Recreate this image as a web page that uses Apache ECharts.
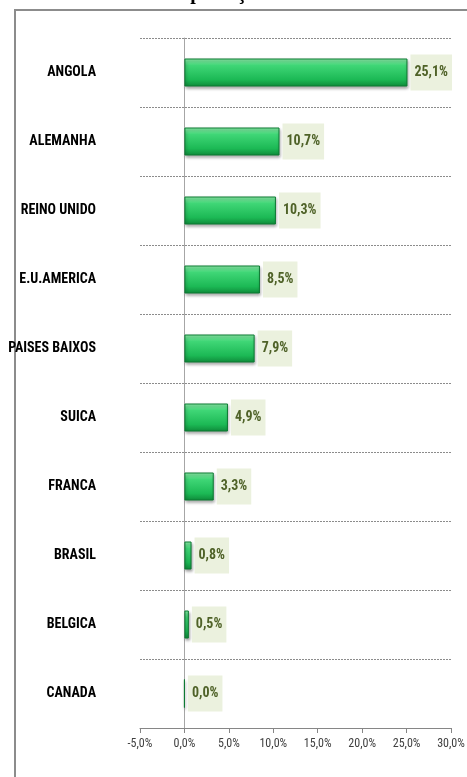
<!DOCTYPE html>
<html><head><meta charset="utf-8">
<script src="https://cdn.jsdelivr.net/npm/echarts@6/dist/echarts.min.js"></script>
<style>html,body{margin:0;padding:0;background:#fff}#c{width:467px;height:777px}</style>
</head><body><div id="c"></div>
<script>
const categories = ['ANGOLA','ALEMANHA','REINO UNIDO','E.U.AMERICA','PAISES BAIXOS','SUICA','FRANCA','BRASIL','BELGICA','CANADA'];
const values = [25.1, 10.7, 10.3, 8.5, 7.9, 4.9, 3.3, 0.8, 0.5, 0.0];
const titleText = 'Exportação 2016';
const xMin = -5, xMax = 30, xStep = 5;

const fmt = v => v.toFixed(1).replace('.', ',') + '%';
const narrow = '"Liberation Sans Narrow", "Roboto Condensed", "DejaVu Sans Condensed", sans-serif';

const chart = echarts.init(document.getElementById('c'), null, {renderer: 'canvas'});
chart.setOption({
  animation: false,
  backgroundColor: '#fff',
  graphic: [
    {type: 'rect', shape: {x: 15, y: 10, width: 480, height: 800},
     style: {fill: 'none', stroke: '#8c8c8c', lineWidth: 2}, z: 0},
    {type: 'text', left: 167, top: -16,
     style: {text: titleText, font: 'bold 20px "Liberation Serif", serif', fill: '#000'}, z: 10}
  ],
  grid: {left: 140, right: 16, top: 38, bottom: 49, outerBoundsMode: 'none'},
  xAxis: {
    type: 'value', min: xMin, max: xMax, interval: xStep,
    axisLine: {show: true, lineStyle: {color: '#868686', width: 1}},
    axisTick: {show: true, length: 5, lineStyle: {color: '#868686'}},
    splitLine: {show: false},
    axisLabel: {formatter: fmt, color: '#404040', fontFamily: narrow, fontSize: 12, margin: 10}
  },
  yAxis: {
    type: 'category', data: categories, inverse: true,
    axisLine: {show: true, onZero: true, lineStyle: {color: '#a6a6a6'}},
    axisTick: {show: false},
    splitLine: {show: true, lineStyle: {color: '#8c8c8c', type: [2, 1], width: 1}},
    axisLabel: {color: '#000', fontFamily: narrow, fontWeight: 'bold', fontSize: 14,
                margin: 44, align: 'right'}
  },
  series: [{
    type: 'bar',
    data: values,
    barWidth: 28,
    itemStyle: {
      color: new echarts.graphic.LinearGradient(0, 0, 0, 1, [
        {offset: 0, color: '#8ff0ac'},
        {offset: 0.25, color: '#3fd676'},
        {offset: 0.75, color: '#1cb955'},
        {offset: 1, color: '#0f8a3a'}
      ]),
      borderColor: '#0d7a33', borderWidth: 1,
      shadowColor: 'rgba(0,0,0,0.35)', shadowBlur: 3, shadowOffsetX: 1, shadowOffsetY: 2
    },
    label: {
      show: true, position: 'right', distance: 3,
      formatter: p => fmt(p.value),
      backgroundColor: '#ebf1de', color: '#4f6228',
      fontFamily: narrow, fontWeight: 'bold', fontSize: 14,
      padding: [11, 4]
    }
  }]
});
</script></body></html>
